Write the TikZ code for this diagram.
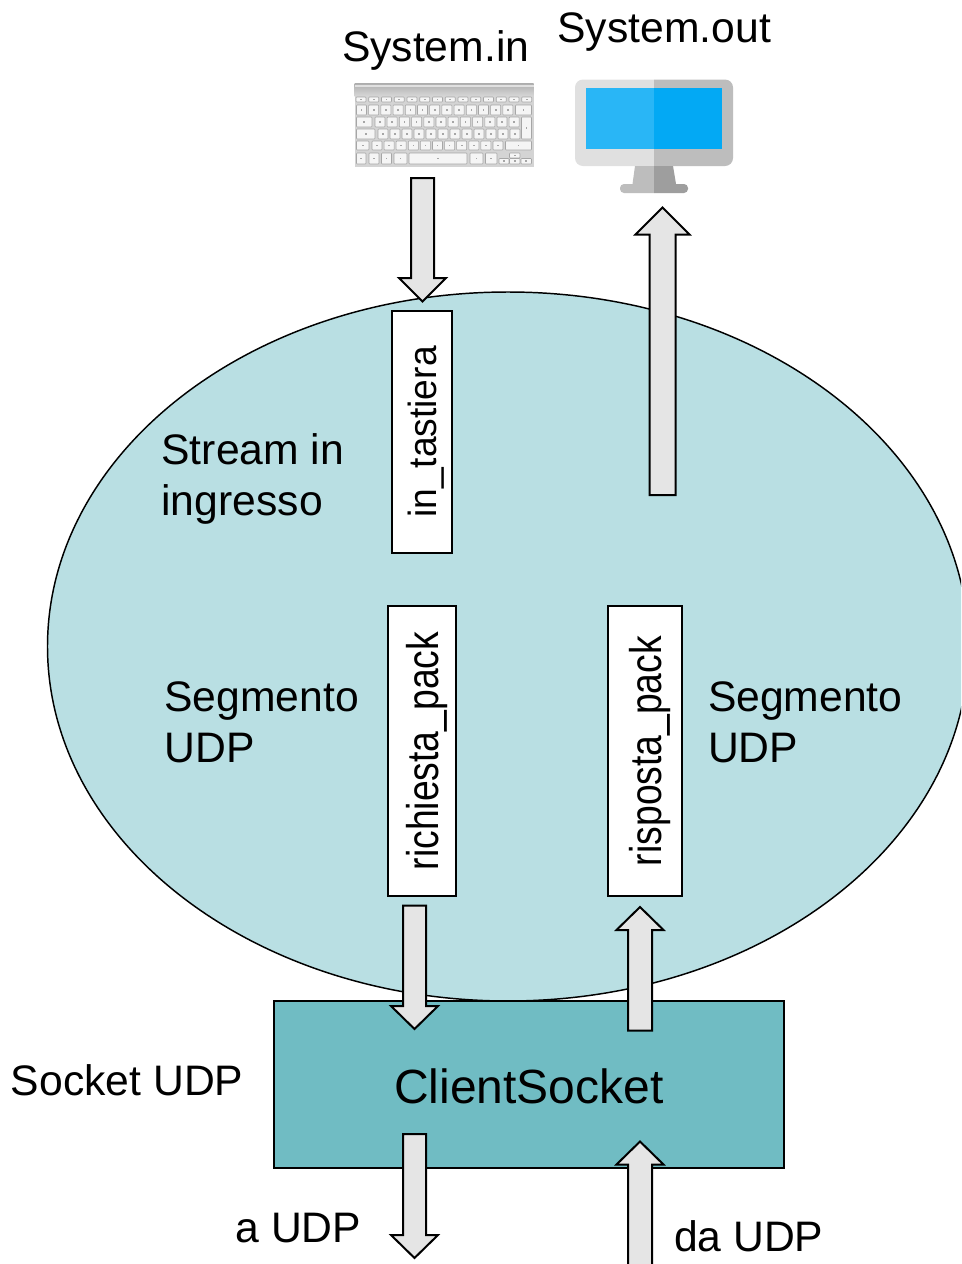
\documentclass[tikz,border=0pt]{standalone}
\usepackage{fontspec}
\usepackage{graphicx}
\setmainfont{Liberation Sans}
\usetikzlibrary{calc,shapes.geometric}
\definecolor{bubble}{HTML}{B9DFE3}
\definecolor{sockfill}{HTML}{70BCC3}
\definecolor{arrowfill}{HTML}{E5E5E5}
\definecolor{monL}{HTML}{E0E0E0}
\definecolor{monR}{HTML}{BDBDBD}
\definecolor{standR}{HTML}{9E9E9E}
\definecolor{scrL}{HTML}{29B6F6}
\definecolor{scrR}{HTML}{03A9F4}
\newcommand{\pxu}{0.75pt}
% from, to, shaft half-width, head half-width, signed head offset from tip
\newcommand{\blockarrow}[5]{%
  \draw[blockshape] ($(#1)+(-#3,0)$) -- ($(#2)+(-#3,#5)$) -- ($(#2)+(-#4,#5)$) -- (#2)
    -- ($(#2)+(#4,#5)$) -- ($(#2)+(#3,#5)$) -- ($(#1)+(#3,0)$) -- cycle;}
\newcommand{\kbkey}[4]{%
  \draw[keyshape] (#1,#2) rectangle (#3,#4);
  \fill[gray!70] ({(#1+#3)/2-0.8},{(#2+#4)/2-0.8}) rectangle ({(#1+#3)/2+0.8},{(#2+#4)/2+0.8});}
\tikzset{
  blockshape/.style={draw=black,fill=arrowfill,line width=1.5pt,miter limit=10},
  keyshape/.style={draw=black!35,fill=white!96!black,line width=0.4pt,rounded corners=0.5pt},
  txt/.style={inner sep=0,outer sep=0,text=black},
  label42/.style={txt,font=\fontsize{32pt}{38.25pt}\selectfont,align=left},
  streambox/.style={draw=black,fill=white,line width=1.5pt,inner sep=0,rotate=90,text depth=0pt}
}
\begin{document}
\begin{tikzpicture}[x=0.75pt,y=-0.75pt]
\useasboundingbox (0,0) rectangle (961,1264);
\clip (0,0) rectangle (961,1264);
\fill[white] (0,0) rectangle (961,1264);

% main bubble
\node[ellipse,draw=black,fill=bubble,line width=1.1pt,inner sep=0,
  minimum width=921*\pxu,minimum height=709*\pxu] (client) at (508,646.5) {};

% keyboard
\shade[top color=black!32,bottom color=black!16] (354.5,83) rectangle (533.5,96);
\fill[black!12] (354.5,85) rectangle (533.5,87);
\fill[black!17] (354.5,96) rectangle (533.5,166.5);
\foreach \i in {0,...,13} {\kbkey{356+12.75*\i}{97}{366+12.75*\i}{102}}
\foreach \i in {0,...,12} {\kbkey{356.5+12.2*\i}{105}{366.5+12.2*\i}{115}}
\kbkey{515.5}{105}{531.5}{115}
\kbkey{356.5}{117}{372}{127}
\foreach \i in {0,...,11} {\kbkey{375+12.2*\i}{117}{385+12.2*\i}{127}}
\kbkey{521.5}{117}{531.5}{139}
\kbkey{356.5}{129}{375}{139}
\foreach \i in {0,...,11} {\kbkey{378+12*\i}{129}{388+12*\i}{139}}
\kbkey{356.5}{141}{369}{150}
\foreach \i in {0,...,10} {\kbkey{372+12.1*\i}{141}{382+12.1*\i}{150}}
\kbkey{505.5}{141}{531.5}{150}
\kbkey{356.5}{153}{366}{164}
\kbkey{369}{153}{379}{164}
\kbkey{381.5}{153}{391.5}{164}
\kbkey{394}{153}{407}{164}
\kbkey{409}{153}{467}{164}
\kbkey{470}{153}{483}{164}
\kbkey{485.5}{153}{497}{164}
\kbkey{499}{158.5}{509}{164}
\kbkey{509.5}{153}{520}{158}
\kbkey{509.5}{158.5}{520}{164}
\kbkey{521}{158.5}{531.5}{164}

% monitor
\begin{scope}
  \clip (500,60) rectangle (654,200);
  \fill[monL,rounded corners=6pt] (575,79.5) rectangle (733,166);
  \fill[monR] (635,166) -- (673,166) -- (676,184) -- (632.5,184) -- cycle;
  \fill[monR,rounded corners=3pt] (620,184) rectangle (688,193);
  \fill[scrL] (586,88) rectangle (722,149);
\end{scope}
\begin{scope}
  \clip (654,60) rectangle (800,200);
  \fill[monR,rounded corners=6pt] (575,79.5) rectangle (733,166);
  \fill[standR] (635,166) -- (673,166) -- (676,184) -- (632.5,184) -- cycle;
  \fill[standR,rounded corners=3pt] (620,184) rectangle (688,193);
  \fill[scrR] (586,88) rectangle (722,149);
\end{scope}

% labels
\node[label42,anchor=base west] (sysin) at (342,61) {System.in};
\node[label42,anchor=base west] (sysout) at (557.5,42) {System.out};
\node[label42,anchor=west] (stream) at (161.5,479) {Stream in\\ingresso};
\node[label42,anchor=west] (segl) at (164.5,722) {Segmento\\UDP};
\node[label42,anchor=west] (segr) at (708,722) {Segmento\\UDP};
\node[label42,anchor=base west] (socklbl) at (11,1095) {Socket UDP};
\node[label42,anchor=base west] (toudp) at (235.5,1242) {a UDP};
\node[label42,anchor=base west] (fromudp) at (674,1251) {da UDP};

% stream boxes
\node[streambox,minimum width=242*\pxu,minimum height=60*\pxu,text height=22.05pt,
  font=\fontsize{29.5pt}{34pt}\selectfont] (intast) at (422,432) {\scalebox{0.945}[1]{in\_tastiera}};
\node[streambox,minimum width=290*\pxu,minimum height=68*\pxu,text height=25.05pt,
  font=\fontsize{33.3pt}{38pt}\selectfont] (rich) at (422,751) {\scalebox{0.84}[1]{richiesta\_pack}};
\node[streambox,minimum width=290*\pxu,minimum height=74*\pxu,text height=25.05pt,
  font=\fontsize{33.3pt}{38pt}\selectfont] (risp) at (645,751) {\scalebox{0.84}[1]{risposta\_pack}};

% socket
\node[draw=black,fill=sockfill,line width=1.5pt,inner sep=0,
  minimum width=510*\pxu,minimum height=167*\pxu,text height=28.5pt,text depth=0pt,
  font=\fontsize{36pt}{43pt}\selectfont] (sock) at (529,1084.5) {ClientSocket};

% arrow ends
\coordinate (kbOut) at (422.5,178);
\coordinate (kbIn) at (422.5,301.5);
\coordinate (monFrom) at (662.5,495);
\coordinate (monTo) at (662.5,207.5);
\coordinate (richFrom) at (414.5,905.5);
\coordinate (richTo) at (414.5,1029);
\coordinate (rispFrom) at (640,1030.5);
\coordinate (rispTo) at (640,907);
\coordinate (sendFrom) at (414.5,1134);
\coordinate (sendTo) at (414.5,1258);
\coordinate (recvFrom) at (640,1275);
\coordinate (recvTo) at (640,1141.5);

\blockarrow{kbOut}{kbIn}{11.5}{23.5}{-23.5}
\blockarrow{monFrom}{monTo}{13}{27}{27}
\blockarrow{richFrom}{richTo}{11.5}{23.5}{-23}
\blockarrow{rispFrom}{rispTo}{12}{23.5}{23}
\blockarrow{sendFrom}{sendTo}{11.5}{23.5}{-23}
\blockarrow{recvFrom}{recvTo}{12}{23.5}{23}
\end{tikzpicture}
\end{document}
